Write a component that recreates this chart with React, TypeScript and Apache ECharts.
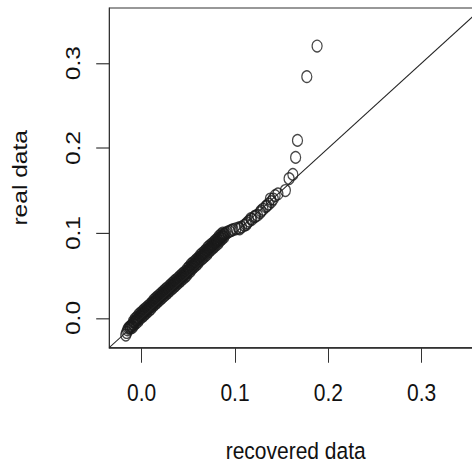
import React, { useEffect, useRef } from "react";
import * as echarts from "echarts";

// [recovered, real] pairs
const bandCenter: number[][] = [
  [-0.017, -0.02], [-0.016, -0.017], [-0.015, -0.014], [-0.014, -0.012], [-0.013, -0.011], [-0.012, -0.01],
  [-0.011, -0.009], [-0.01, -0.008], [-0.009, -0.007], [-0.008, -0.005], [-0.007, -0.004], [-0.006, -0.003],
  [-0.005, -0.002], [-0.004, -0.001], [-0.003, 0.0], [-0.002, 0.002], [-0.001, 0.003], [0.0, 0.004],
  [0.001, 0.005], [0.002, 0.006], [0.003, 0.007], [0.004, 0.008], [0.005, 0.009], [0.006, 0.01],
  [0.007, 0.011], [0.008, 0.012], [0.009, 0.013], [0.01, 0.014], [0.011, 0.015], [0.012, 0.017],
  [0.013, 0.018], [0.014, 0.019], [0.015, 0.02], [0.016, 0.021], [0.017, 0.022], [0.018, 0.023],
  [0.019, 0.024], [0.02, 0.025], [0.021, 0.026], [0.022, 0.027], [0.023, 0.028], [0.024, 0.029],
  [0.025, 0.03], [0.026, 0.031], [0.027, 0.032], [0.028, 0.033], [0.029, 0.034], [0.03, 0.035],
  [0.031, 0.036], [0.032, 0.037], [0.033, 0.038], [0.034, 0.039], [0.035, 0.04], [0.036, 0.041],
  [0.037, 0.042], [0.038, 0.043], [0.039, 0.044], [0.04, 0.045], [0.041, 0.046], [0.042, 0.047],
  [0.043, 0.048], [0.044, 0.049], [0.045, 0.05], [0.046, 0.051], [0.047, 0.052], [0.048, 0.053],
  [0.049, 0.055], [0.05, 0.056], [0.051, 0.057], [0.052, 0.058], [0.053, 0.06], [0.054, 0.061],
  [0.055, 0.062], [0.056, 0.063], [0.057, 0.064], [0.058, 0.065], [0.059, 0.066], [0.06, 0.067],
  [0.061, 0.068], [0.062, 0.07], [0.063, 0.071], [0.064, 0.072], [0.065, 0.073], [0.066, 0.074],
  [0.067, 0.075], [0.068, 0.076], [0.069, 0.077], [0.07, 0.078], [0.071, 0.08], [0.072, 0.081],
  [0.073, 0.082], [0.074, 0.083], [0.075, 0.084], [0.076, 0.085], [0.077, 0.086], [0.078, 0.087],
  [0.079, 0.088], [0.08, 0.089], [0.081, 0.09], [0.082, 0.091], [0.083, 0.093], [0.084, 0.094],
  [0.085, 0.095], [0.086, 0.096], [0.087, 0.097], [0.088, 0.098], [0.089, 0.099], [0.09, 0.1],
  [0.092, 0.101], [0.094, 0.102], [0.096, 0.103], [0.098, 0.104],
];

const bandLower: number[][] = [
  [-0.012, -0.012], [-0.01, -0.011], [-0.008, -0.008], [-0.006, -0.006], [-0.004, -0.004], [-0.002, -0.001],
  [0.0, 0.001], [0.002, 0.003], [0.004, 0.005], [0.006, 0.007], [0.008, 0.009], [0.01, 0.011],
  [0.012, 0.014], [0.014, 0.016], [0.016, 0.018], [0.018, 0.02], [0.02, 0.022], [0.022, 0.024],
  [0.024, 0.026], [0.026, 0.028], [0.028, 0.03], [0.03, 0.032], [0.032, 0.034], [0.034, 0.036],
  [0.036, 0.038], [0.038, 0.04], [0.04, 0.042], [0.042, 0.044], [0.044, 0.046], [0.046, 0.048],
  [0.048, 0.05], [0.05, 0.053], [0.052, 0.055], [0.054, 0.058], [0.056, 0.06], [0.058, 0.062],
  [0.06, 0.064], [0.062, 0.067], [0.064, 0.069], [0.066, 0.071], [0.068, 0.073], [0.07, 0.075],
  [0.072, 0.078], [0.074, 0.08], [0.076, 0.082], [0.078, 0.084], [0.08, 0.086], [0.082, 0.088],
  [0.084, 0.091], [0.086, 0.093], [0.088, 0.095],
];

const bandUpper: number[][] = [
  [-0.009, -0.004], [-0.007, -0.001], [-0.005, 0.001], [-0.003, 0.004], [-0.001, 0.006], [0.001, 0.008],
  [0.003, 0.01], [0.005, 0.012], [0.007, 0.014], [0.009, 0.016], [0.011, 0.018], [0.013, 0.021],
  [0.015, 0.023], [0.017, 0.025], [0.019, 0.027], [0.021, 0.029], [0.023, 0.031], [0.025, 0.033],
  [0.027, 0.035], [0.029, 0.037], [0.031, 0.039], [0.033, 0.041], [0.035, 0.043], [0.037, 0.045],
  [0.039, 0.047], [0.041, 0.049], [0.043, 0.051], [0.045, 0.053], [0.047, 0.055], [0.049, 0.058],
  [0.051, 0.06], [0.053, 0.063], [0.055, 0.065], [0.057, 0.067], [0.059, 0.069], [0.061, 0.071],
  [0.063, 0.074], [0.065, 0.076], [0.067, 0.078], [0.069, 0.08], [0.071, 0.083], [0.073, 0.085],
  [0.075, 0.087], [0.077, 0.089], [0.079, 0.091], [0.081, 0.093], [0.083, 0.096], [0.085, 0.098],
  [0.087, 0.1],
];

const upperTail: number[][] = [
  [0.101, 0.105], [0.104, 0.106], [0.105, 0.105], [0.107, 0.107], [0.11, 0.109], [0.112, 0.11],
  [0.113, 0.112], [0.115, 0.114], [0.117, 0.117], [0.118, 0.116], [0.121, 0.119], [0.122, 0.12],
  [0.124, 0.121], [0.127, 0.124], [0.128, 0.126], [0.13, 0.128], [0.133, 0.131], [0.134, 0.132],
  [0.136, 0.134], [0.138, 0.14], [0.139, 0.137], [0.141, 0.14], [0.143, 0.144], [0.146, 0.146],
  [0.154, 0.15], [0.158, 0.164], [0.162, 0.169], [0.165, 0.189], [0.167, 0.209], [0.177, 0.284],
  [0.188, 0.32],
];

const axisRange: number[] = [-0.0348, 0.3648];
const tickValues: number[] = [0, 0.1, 0.2, 0.3];
const xTitle = "recovered data";
const yTitle = "real data";

const SY = 1.17;
const W = 472;
const H = 463;
const CW = 500;
const CH = Math.round(H / SY);

export default function App() {
  const ref = useRef<HTMLDivElement>(null);
  useEffect(() => {
    document.body.style.margin = "0";
    if (!ref.current) return;
    const chart = echarts.init(ref.current, undefined, { renderer: "svg" });
    const font = "'Liberation Sans', Arial, Helvetica, sans-serif";
    const ink = "#333";
    const points = [...bandCenter, ...bandLower, ...bandUpper, ...upperTail];
    chart.setOption({
      animation: false,
      backgroundColor: "#fff",
      grid: {
        left: 109.2,
        right: CW - 482.1,
        top: 8 / SY,
        bottom: CH - 347.6 / SY,
        outerBoundsMode: "none",
        containLabel: false,
        show: true,
        borderColor: ink,
        borderWidth: 1,
        backgroundColor: "transparent",
      },
      xAxis: {
        type: "value",
        min: axisRange[0],
        max: axisRange[1],
        name: xTitle,
        nameLocation: "middle",
        nameGap: 77,
        nameTextStyle: { fontFamily: font, fontSize: 21, color: "#111" },
        axisLine: { show: true, onZero: false, lineStyle: { color: ink, width: 1 } },
        axisTick: { show: true, length: 13, customValues: tickValues, lineStyle: { color: ink, width: 1 } },
        axisLabel: {
          customValues: tickValues,
          margin: 28,
          fontFamily: font,
          fontSize: 21,
          color: "#111",
          formatter: (v: number) => v.toFixed(1),
        },
        splitLine: { show: false },
      },
      yAxis: {
        type: "value",
        min: axisRange[0],
        max: axisRange[1],
        name: yTitle,
        nameLocation: "middle",
        nameGap: 79,
        nameTextStyle: { fontFamily: font, fontSize: 21, color: "#111" },
        axisLine: { show: true, onZero: false, lineStyle: { color: ink, width: 1 } },
        axisTick: { show: true, length: 13, customValues: tickValues, lineStyle: { color: ink, width: 1 } },
        axisLabel: {
          customValues: tickValues,
          rotate: 90,
          margin: 26,
          fontFamily: font,
          fontSize: 21,
          color: "#111",
          formatter: (v: number) => v.toFixed(1),
        },
        splitLine: { show: false },
      },
      series: [
        {
          type: "line",
          data: [
            [axisRange[0], axisRange[0]],
            [axisRange[1], axisRange[1]],
          ],
          symbol: "none",
          lineStyle: { color: "#222", width: 1 },
          clip: true,
          silent: true,
        },
        {
          type: "scatter",
          data: points,
          symbol: "circle",
          symbolSize: 10,
          itemStyle: { color: "rgba(0,0,0,0)", borderColor: "#1a1a1a", borderWidth: 1.2 },
        },
      ],
    });
    return () => chart.dispose();
  }, []);
  return (
    <div style={{ position: "fixed", left: 0, top: 0, width: W, height: H, overflow: "hidden", background: "#fff" }}>
      <div
        ref={ref}
        style={{ width: CW, height: CH, transform: `scaleY(${SY})`, transformOrigin: "top left" }}
      />
    </div>
  );
}
